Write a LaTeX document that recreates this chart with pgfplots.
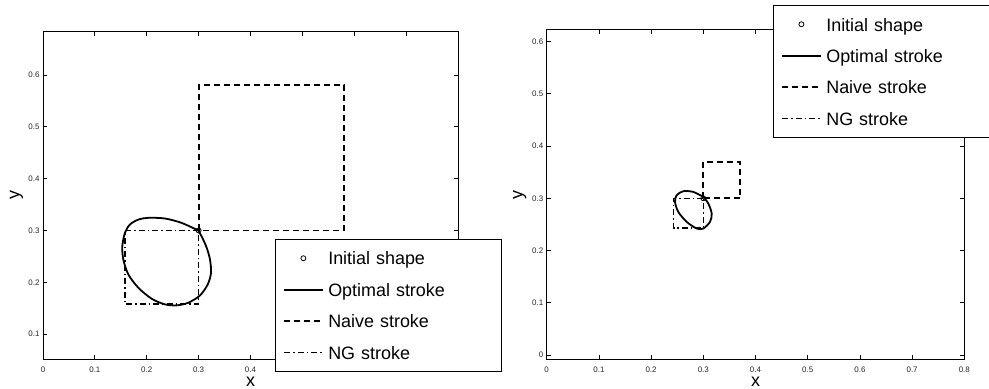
\documentclass[border=0pt]{standalone}
\usepackage{pgfplots}
\pgfplotsset{compat=1.18}
\usepackage{fontspec}
\setmainfont{Liberation Sans}

\pgfplotsset{
  strokeaxis/.style={
    scale only axis,
    axis line style={line width=1bp},
    tick align=inside,
    tick pos=both,
    major tick length=4bp,
    every tick/.style={black, line width=0.8bp},
    xmin=0, xmax=0.8,
    xtick={0,0.1,0.2,0.3,0.4,0.5,0.6,0.7,0.8},
    ticklabel style={font=\fontsize{8}{9}\selectfont, text=black!85},
    xticklabel style={yshift=-4bp},
    /pgf/number format/assume math mode=true,
    /pgf/number format/fixed,
    label style={font=\fontsize{18}{19}\selectfont},
    xlabel style={inner sep=0bp},
    xlabel={x}, ylabel={y},
    legend cell align=left,
    legend style={draw=black, line width=1bp, fill=white, anchor=north west,
      inner xsep=8bp, inner ysep=10.5bp, row sep=15bp, column sep=5bp,
      font=\fontsize{18}{20}\selectfont, nodes={inner sep=0bp},
      /tikz/every even column/.append style={text height=15bp, text depth=2bp, align=left}},
    legend image code/.code={\draw[mark repeat=2,mark phase=2,#1]
      plot coordinates {(0bp,0bp) (19bp,0bp) (38bp,0bp)};},
  },
  optimal/.style={black, line width=1.8bp, smooth},
  naive/.style={black, line width=1.8bp, dash pattern=on 6bp off 4bp},
  ngs/.style={black, line width=1.5bp, dash pattern=on 6bp off 3bp on 1.5bp off 3bp},
  initial/.style={black, only marks, mark=o, mark size=2.5bp, line width=0.8bp},
}

\begin{document}
\begin{tikzpicture}

% left panel
\begin{axis}[strokeaxis,
    at={(43bp,30bp)}, anchor=south west,
    width=415bp, height=327bp,
    ymin=0.052, ymax=0.683,
    ytick={0.1,0.2,0.3,0.4,0.5,0.6},
    xlabel style={at={(axis description cs:0.5,-0.084)}, anchor=base},
    ylabel style={at={(axis description cs:-0.0571,0.5)}, anchor=base},
    legend style={at={(0.559,0.367)},
      /tikz/every even column/.append style={text width=165bp}},
  ]
\addplot[initial] coordinates {(0.3,0.3)};
\addlegendentry{Initial shape}
\addplot[optimal] coordinates {
  (0.2994,0.3000) (0.2673,0.3146) (0.2352,0.3231) (0.2030,0.3244)
  (0.1838,0.3210) (0.1677,0.3116) (0.1580,0.2955) (0.1529,0.2698)
  (0.1548,0.2441) (0.1645,0.2152) (0.1838,0.1895) (0.2095,0.1683)
  (0.2352,0.1574) (0.2577,0.1555) (0.2801,0.1606) (0.3027,0.1747)
  (0.3175,0.1959) (0.3239,0.2184) (0.3219,0.2441) (0.3156,0.2666)
  (0.3071,0.2859) (0.2994,0.3000)
};
\addlegendentry{Optimal stroke}
\addplot[naive] coordinates {
  (0.3,0.3) (0.3,0.58) (0.58,0.58) (0.58,0.3) (0.3,0.3)
};
\addlegendentry{Naive stroke}
\addplot[ngs] coordinates {
  (0.3,0.3) (0.158,0.3) (0.158,0.158) (0.3,0.158) (0.3,0.3)
};
\addlegendentry{NG stroke}
\end{axis}

% right panel
\begin{axis}[strokeaxis,
    at={(546.7bp,29.7bp)}, anchor=south west,
    width=417.6bp, height=329.3bp,
    ymin=-0.008, ymax=0.622,
    ytick={0,0.1,0.2,0.3,0.4,0.5,0.6},
    xlabel style={at={(axis description cs:0.5,-0.0826)}, anchor=base},
    ylabel style={at={(axis description cs:-0.0575,0.5)}, anchor=base},
    legend style={at={(0.5419,1.0759)},
      /tikz/every even column/.append style={text width=157bp}},
  ]
\addplot[initial] coordinates {(0.3,0.3)};
\addlegendentry{Initial shape}
\addplot[optimal] coordinates {
  (0.3000,0.3027) (0.2808,0.3122) (0.2617,0.3136) (0.2490,0.3059)
  (0.2458,0.2931) (0.2521,0.2740) (0.2682,0.2549) (0.2874,0.2422)
  (0.3000,0.2422) (0.3128,0.2549) (0.3161,0.2709) (0.3096,0.2900)
  (0.3000,0.3027)
};
\addlegendentry{Optimal stroke}
\addplot[naive] coordinates {
  (0.3,0.3) (0.3,0.37) (0.37,0.37) (0.37,0.3) (0.3,0.3)
};
\addlegendentry{Naive stroke}
\addplot[ngs] coordinates {
  (0.3,0.3) (0.243,0.3) (0.243,0.243) (0.3,0.243) (0.3,0.3)
};
\addlegendentry{NG stroke}
\end{axis}

\pgfresetboundingbox
\path[use as bounding box] (0,0) rectangle (989bp,389bp);
\end{tikzpicture}
\end{document}
